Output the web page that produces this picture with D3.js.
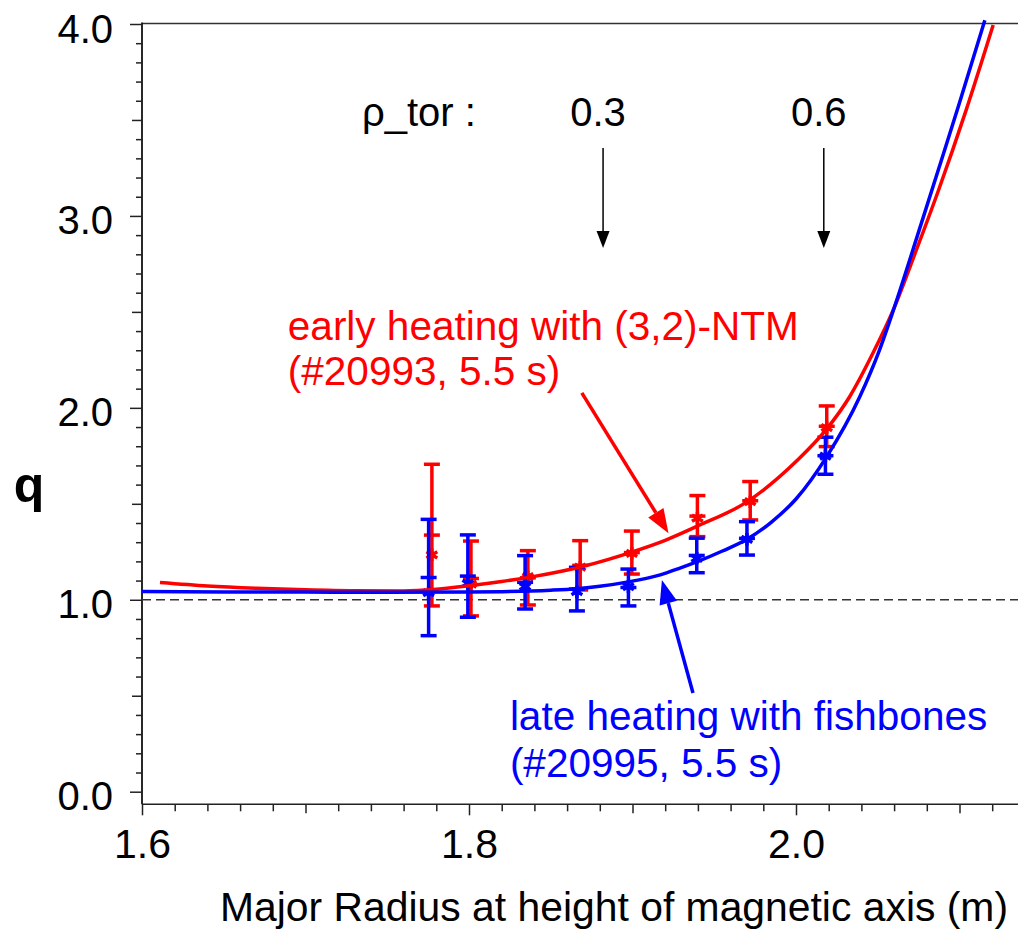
<!DOCTYPE html>
<html>
<head>
<meta charset="utf-8">
<script src="https://cdn.jsdelivr.net/npm/d3@7.9.0/dist/d3.min.js"></script>
<style>
  body { margin: 0; background: #fff; }
  svg { display: block; }
  text { font-family: "Liberation Sans", Arial, Helvetica, sans-serif; }
</style>
</head>
<body>
<svg id="chart" width="1018" height="931"></svg>
<script>
// fitted q profiles (major radius R in m, safety factor q)
const redFitR = [1.611, 1.64, 1.67, 1.70, 1.73, 1.76, 1.78, 1.80, 1.82, 1.84, 1.87, 1.90, 1.92, 1.94, 1.97, 2.00, 2.0188, 2.0328, 2.047, 2.0595, 2.0735, 2.0870, 2.1040, 2.1206];
const redFitQ = [1.090, 1.072, 1.060, 1.052, 1.047, 1.046, 1.055, 1.073, 1.095, 1.122, 1.175, 1.250, 1.310, 1.385, 1.510, 1.720, 1.890, 2.058, 2.284, 2.510, 2.820, 3.130, 3.550, 3.995];
const blueFitR = [1.600, 1.65, 1.70, 1.75, 1.80, 1.82, 1.85, 1.866, 1.88, 1.8965, 1.917, 1.929, 1.94, 1.955, 1.970, 1.985, 2.00, 2.0188, 2.039, 2.051, 2.060, 2.0766, 2.0878, 2.100, 2.1155];
const blueFitQ = [1.043, 1.041, 1.040, 1.039, 1.040, 1.042, 1.050, 1.058, 1.070, 1.092, 1.130, 1.165, 1.200, 1.254, 1.315, 1.405, 1.525, 1.746, 2.058, 2.300, 2.520, 2.960, 3.260, 3.590, 4.020];

// measured points with error bars
const redPtR  = [1.7773, 1.8012, 1.836, 1.868, 1.8996, 1.9397, 1.972, 2.0188];
const redPtQ  = [1.234, 1.082, 1.120, 1.170, 1.242, 1.425, 1.511, 1.897];
const redLo   = [0.968, 0.916, 0.973, 1.051, 1.134, 1.329, 1.416, 1.798];
const redHi   = [1.706, 1.306, 1.256, 1.308, 1.358, 1.543, 1.616, 2.010];
const bluePtR = [1.7753, 1.7993, 1.8343, 1.866, 1.8975, 1.9393, 1.970, 2.018];
const bluePtQ = [1.037, 1.086, 1.068, 1.042, 1.068, 1.216, 1.315, 1.749];
const blueLo  = [0.813, 0.909, 0.952, 0.942, 0.968, 1.141, 1.233, 1.654];
const blueHi  = [1.419, 1.338, 1.230, 1.169, 1.160, 1.321, 1.407, 1.847];

// rho_tor markers
const rhoLabels = ["0.3", "0.6"];
const rhoR = [1.882, 2.017];

// tick labels
const xTickVals = [1.6, 1.8, 2.0];
const xTickLabels = ["1.6", "1.8", "2.0"];
const yTickVals = [0, 1, 2, 3, 4];
const yTickLabels = ["0.0", "1.0", "2.0", "3.0", "4.0"];

const RED = "#ff0000", BLUE = "#0000ff";

const svg = d3.select("#chart");
const plotLeft = 142, plotRight = 1018, plotTop = 23.5, plotBottom = 804.3;

const x = d3.scaleLinear().domain([1.6, 2.0]).range([plotLeft, 796]);
const y = d3.scaleLinear().domain([0, 4]).range([791.7, 24]);

// frame (no right border, runs off the image)
svg.append("line").attr("x1", plotLeft).attr("x2", plotRight).attr("y1", plotTop).attr("y2", plotTop)
  .attr("stroke", "#333").attr("stroke-width", 1.5);
svg.append("line").attr("x1", plotLeft).attr("x2", plotRight).attr("y1", plotBottom).attr("y2", plotBottom)
  .attr("stroke", "#222").attr("stroke-width", 1.5);
svg.append("line").attr("x1", plotLeft).attr("x2", plotLeft).attr("y1", plotTop - 1).attr("y2", plotBottom)
  .attr("stroke", "#111").attr("stroke-width", 1.8);

// y axis ticks: minor 0.1, half 0.5, major 1.0
const yMinor = d3.range(0, 41).map(i => i / 10).filter(v => Math.abs(v * 2 - Math.round(v * 2)) > 1e-6);
const yHalf = [0.5, 1.5, 2.5, 3.5];
function yTicks(vals, size) {
  const g = svg.append("g").attr("transform", `translate(${plotLeft},0)`)
    .call(d3.axisLeft(y).tickValues(vals).tickSize(size).tickFormat(""));
  g.select(".domain").remove();
  g.selectAll(".tick line").attr("stroke", "#222").attr("stroke-width", 1.5);
  return g;
}
yTicks(yMinor, 6);
yTicks(yHalf, 10);
const gy = yTicks(yTickVals, 12);
gy.selectAll(".tick").each(function(d, i) {
  d3.select(this).append("text")
    .attr("x", -29).attr("dy", "0.45em")
    .attr("text-anchor", "end")
    .attr("fill", "#000").style("font-size", "40px")
    .text(yTickLabels[i]);
});

// x axis ticks: minor 0.02, mid 0.1, major 0.2
const xAll = d3.range(0, 27).map(i => +(1.6 + i * 0.02).toFixed(2));
const xMinor = xAll.filter(v => Math.abs(v * 10 - Math.round(v * 10)) > 1e-6);
const xMid = xAll.filter(v => Math.abs(v * 10 - Math.round(v * 10)) < 1e-6 && Math.abs(v * 5 - Math.round(v * 5)) > 1e-6);
function xTicks(vals, size) {
  const g = svg.append("g").attr("transform", `translate(0,${plotBottom})`)
    .call(d3.axisBottom(x).tickValues(vals).tickSize(size).tickFormat(""));
  g.select(".domain").remove();
  g.selectAll(".tick line").attr("stroke", "#222").attr("stroke-width", 1.5);
  return g;
}
xTicks(xMinor, 7);
xTicks(xMid, 9);
const gx = xTicks(xTickVals, 11);
gx.selectAll(".tick").each(function(d, i) {
  d3.select(this).append("text")
    .attr("y", 54)
    .attr("text-anchor", "middle")
    .attr("fill", "#000").style("font-size", "41px")
    .text(xTickLabels[i]);
});

// axis titles
svg.append("text").attr("x", 220).attr("y", 921)
  .attr("textLength", 788).attr("lengthAdjust", "spacingAndGlyphs")
  .style("font-size", "41px").attr("fill", "#000")
  .text("Major Radius at height of magnetic axis (m)");
svg.append("text").attr("x", 29).attr("y", 502).attr("text-anchor", "middle")
  .style("font-size", "50px").style("font-weight", "bold").attr("fill", "#000")
  .text("q");

// q = 1 reference line
svg.append("line").attr("x1", plotLeft).attr("x2", plotRight).attr("y1", y(1)).attr("y2", y(1))
  .attr("stroke", "#333").attr("stroke-width", 1.5).attr("stroke-dasharray", "9,5");

// error bars
function errorBars(R, Q, lo, hi, color) {
  const g = svg.append("g").attr("stroke", color).attr("stroke-width", 3.5).attr("fill", "none");
  const cap = 8;
  R.forEach((r, i) => {
    const cx = x(r);
    g.append("line").attr("x1", cx).attr("x2", cx).attr("y1", y(lo[i])).attr("y2", y(hi[i]));
    [lo[i], hi[i], (lo[i] + hi[i]) / 2].forEach(v => {
      g.append("line").attr("x1", cx - cap).attr("x2", cx + cap).attr("y1", y(v)).attr("y2", y(v));
    });
    g.append("path")
      .attr("d", d3.symbol(d3.symbolAsterisk, 110)())
      .attr("transform", `translate(${cx},${y(Q[i])})`)
      .attr("stroke-width", 3.5);
  });
}
errorBars(redPtR, redPtQ, redLo, redHi, RED);
errorBars(bluePtR, bluePtQ, blueLo, blueHi, BLUE);

// fitted curves
const line = d3.line().x(d => x(d[0])).y(d => y(d[1])).curve(d3.curveMonotoneX);
svg.append("path").datum(redFitR.map((r, i) => [r, redFitQ[i]]))
  .attr("d", line).attr("fill", "none").attr("stroke", RED).attr("stroke-width", 3.5);
svg.append("path").datum(blueFitR.map((r, i) => [r, blueFitQ[i]]))
  .attr("d", line).attr("fill", "none").attr("stroke", BLUE).attr("stroke-width", 3.5);

// arrow helper
function arrow(x1, y1, x2, y2, color, w, headLen, headW) {
  const a = Math.atan2(y2 - y1, x2 - x1);
  const bx = x2 - headLen * Math.cos(a), by = y2 - headLen * Math.sin(a);
  svg.append("line").attr("x1", x1).attr("y1", y1).attr("x2", bx).attr("y2", by)
    .attr("stroke", color).attr("stroke-width", w);
  const px = -Math.sin(a) * headW / 2, py = Math.cos(a) * headW / 2;
  svg.append("path")
    .attr("d", `M${x2},${y2}L${bx + px},${by + py}L${bx - px},${by - py}Z`)
    .attr("fill", color);
}

// rho_tor annotation
svg.append("text").attr("x", 362).attr("y", 126).style("font-size", "40px").attr("fill", "#000")
  .text("\u03c1_tor :");
rhoR.forEach((r, i) => {
  svg.append("text").attr("x", x(r) - 5).attr("y", 126).attr("text-anchor", "middle")
    .style("font-size", "40px").attr("fill", "#000").text(rhoLabels[i]);
  arrow(x(r), y(3.354), x(r), y(2.833), "#000", 1.5, 17, 13);
});

// series annotations
svg.append("text").attr("x", x(1.6892)).attr("y", y(2.354)).style("font-size", "40.5px").attr("fill", RED)
  .text("early heating with (3,2)-NTM");
svg.append("text").attr("x", x(1.6892)).attr("y", y(2.119)).style("font-size", "40.5px").attr("fill", RED)
  .text("(#20993, 5.5 s)");
arrow(x(1.869), y(2.078), x(1.922), y(1.347), RED, 3.5, 24, 18);

svg.append("text").attr("x", x(1.825)).attr("y", y(0.3215)).style("font-size", "40.5px").attr("fill", BLUE)
  .text("late heating with fishbones");
svg.append("text").attr("x", x(1.825)).attr("y", y(0.0766)).style("font-size", "40.5px").attr("fill", BLUE)
  .text("(#20995, 5.5 s)");
arrow(x(1.937), y(0.514), x(1.918), y(1.103), BLUE, 3.5, 24, 18);
</script>
</body>
</html>
